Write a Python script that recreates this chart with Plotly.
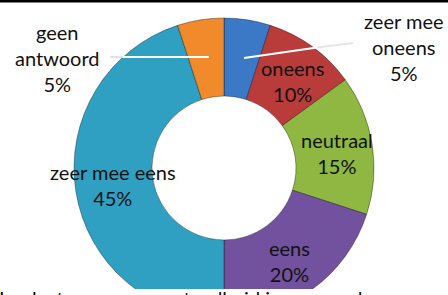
import plotly.graph_objects as go

# ---- data ----
categories = ["zeer mee oneens", "oneens", "neutraal", "eens", "zeer mee eens", "geen antwoord"]
display_lines = ["zeer mee<br>oneens", "oneens", "neutraal", "eens", "zeer mee eens", "geen<br>antwoord"]
values = [5, 10, 15, 20, 45, 5]
colors = ["#3B78C6", "#B93C3A", "#8FB842", "#72529F", "#2FA0C2", "#F08A2A"]
footer_text = "In plaats van een neutraalheid is een zand, en"

W, H = 448, 330
def px(x):
    return x / W
def py(y):
    return 1 - y / H

cx, cy, R = 224, 168, 150

fig = go.Figure()
fig.add_trace(go.Pie(
    labels=categories, values=values, sort=False, direction="clockwise", rotation=0,
    hole=0.48, textinfo="none", hoverinfo="label+percent",
    marker=dict(colors=colors, line=dict(color="rgba(0,0,0,0.35)", width=1)),
    domain=dict(x=[px(cx - R), px(cx + R)], y=[py(cy + R), py(cy - R)]),
    showlegend=False,
))

font = dict(family="Lato, Carlito, sans-serif", size=20, color="#111111")
label_pos = [(404, 47), (292, 81), (337, 153), (289, 261), (113, 185), (57, 58)]
for name, val, (x, y) in zip(display_lines, values, label_pos):
    fig.add_annotation(x=px(x), y=py(y), xref="paper", yref="paper",
                       text=f"{name}<br>{val}%", showarrow=False, font=font,
                       xanchor="center", yanchor="middle", align="center")

shapes = []
# leader lines
shapes.append(dict(type="line", xref="paper", yref="paper", x0=px(110), y0=py(57), x1=px(123), y1=py(57),
                   line=dict(color="#e2e2e2", width=2)))
shapes.append(dict(type="line", xref="paper", yref="paper", x0=px(123), y0=py(57), x1=px(209), y1=py(57),
                   line=dict(color="white", width=2)))
shapes.append(dict(type="line", xref="paper", yref="paper", x0=px(317), y0=py(47.5), x1=px(353), y1=py(43),
                   line=dict(color="#e6e6e6", width=2)))
shapes.append(dict(type="line", xref="paper", yref="paper", x0=px(244), y0=py(58), x1=px(317), y1=py(47.5),
                   line=dict(color="white", width=2)))
# white footer box covering the ring bottom
shapes.append(dict(type="rect", xref="paper", yref="paper", x0=0, x1=1, y0=0, y1=py(289),
                   fillcolor="white", line=dict(width=0), layer="above"))
# top black rule
shapes.append(dict(type="rect", xref="paper", yref="paper", x0=0, x1=1, y0=py(2.5), y1=1,
                   fillcolor="black", line=dict(width=0), layer="above"))

fig.add_annotation(x=px(-3), y=py(284), xref="paper", yref="paper", text=footer_text,
                   showarrow=False, xanchor="left", yanchor="top",
                   font=dict(family="Lato, Carlito, sans-serif", size=20, color="#111111"))

fig.update_layout(width=W, height=H, margin=dict(l=0, r=0, t=0, b=0),
                  paper_bgcolor="white", plot_bgcolor="white", shapes=shapes)

fig.write_html("out.html", config={"displayModeBar": False},
               post_script="document.body.style.margin='0';document.body.style.overflow='hidden';document.documentElement.style.overflow='hidden';")
